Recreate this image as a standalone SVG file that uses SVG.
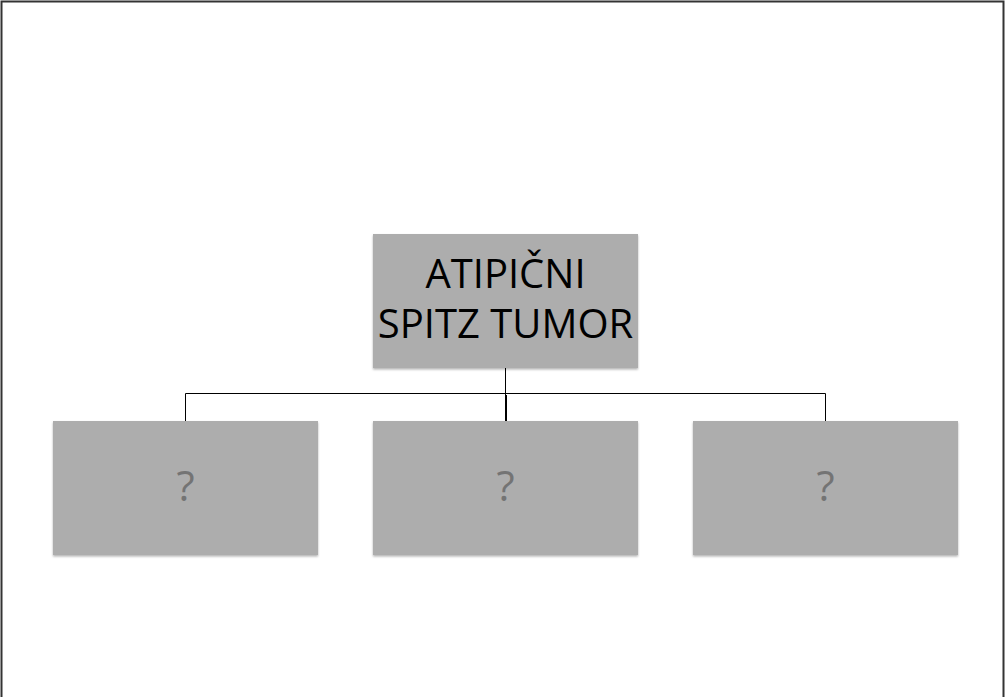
<svg xmlns="http://www.w3.org/2000/svg" width="1005" height="697" viewBox="0 0 1005 697">
<defs>
<filter id="sh" x="-5%" y="-5%" width="110%" height="115%">
<feDropShadow dx="0" dy="1.5" stdDeviation="1" flood-color="#000" flood-opacity="0.3"/>
</filter>
</defs>
<style>
.box{fill:#adadad;filter:url(#sh);}
.main{font-family:"Open Sans","Liberation Sans",sans-serif;font-size:40px;fill:#000;text-anchor:middle;}
.q{font-family:"Open Sans","Liberation Sans",sans-serif;font-size:42px;fill:#747474;text-anchor:middle;}
.conn{fill:none;stroke:#000;stroke-width:1;}
</style>
<rect width="1005" height="697" fill="#fff"/>
<path d="M1.5,697 V1.5 H1003.5 V697" fill="none" stroke="#333" stroke-width="2"/>
<g id="connectors">
<path class="conn" d="M505.5,368 V421"/>
<path class="conn" d="M185.5,421 V393.5 H825.5 V421"/>
<path d="M506,395 V421" stroke="#000" stroke-width="2"/>
</g>
<g id="n0">
<rect class="box" x="373" y="234" width="265" height="134"/>
<text class="main" x="505.5" y="288">ATIPIČNI</text>
<text class="main" x="505.5" y="338">SPITZ TUMOR</text>
</g>
<g id="n1">
<rect class="box" x="53" y="421" width="265" height="134"/>
<text class="q" x="185.5" y="501">?</text>
</g>
<g id="n2">
<rect class="box" x="373" y="421" width="265" height="134"/>
<text class="q" x="505.5" y="501">?</text>
</g>
<g id="n3">
<rect class="box" x="693" y="421" width="265" height="134"/>
<text class="q" x="825.5" y="501">?</text>
</g>
</svg>
